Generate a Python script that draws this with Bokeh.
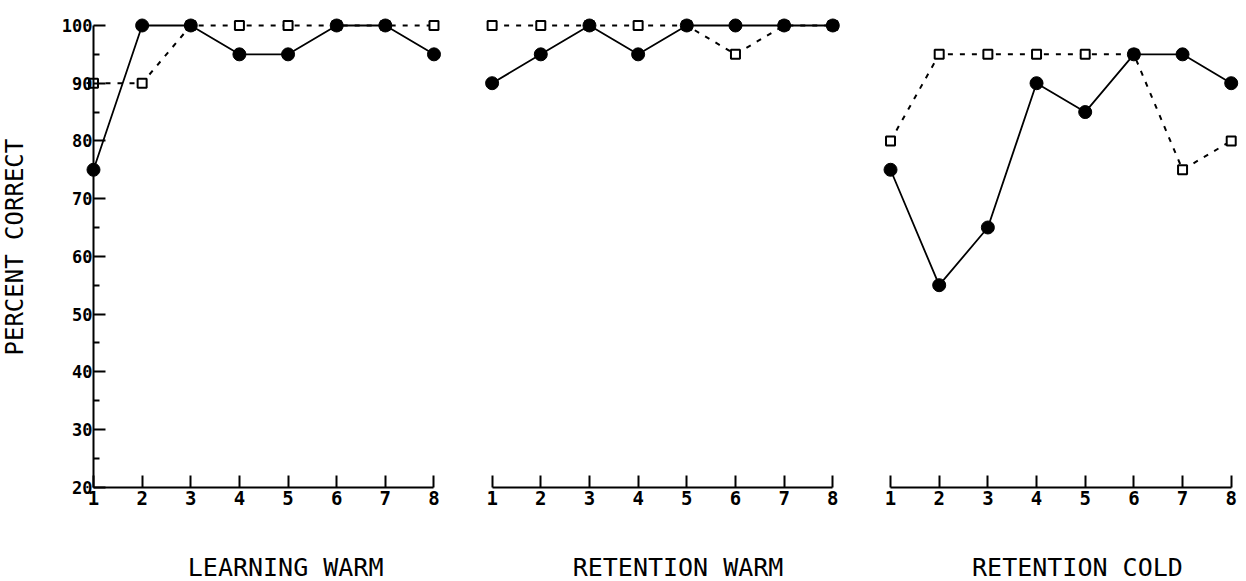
import math
from bokeh.plotting import figure
from bokeh.models import Range1d, LinearAxis, FixedTicker, Label
from bokeh.embed import file_html
from bokeh.resources import INLINE

# ---------------- data ----------------
sessions = [1, 2, 3, 4, 5, 6, 7, 8]
panel_titles = ["LEARNING WARM", "RETENTION WARM", "RETENTION COLD"]

solid_learning_warm = [75, 100, 100, 95, 95, 100, 100, 95]
dashed_learning_warm = [90, 90, 100, 100, 100, 100, 100, 100]

solid_retention_warm = [90, 95, 100, 95, 100, 100, 100, 100]
dashed_retention_warm = [100, 100, 100, 100, 100, 95, 100, 100]

solid_retention_cold = [75, 55, 65, 90, 85, 95, 95, 90]
dashed_retention_cold = [80, 95, 95, 95, 95, 95, 75, 80]

y_ticks = [20, 30, 40, 50, 60, 70, 80, 90, 100]
y_minor_ticks = [25, 35, 45, 55, 65, 75, 85, 95]
y_label = "PERCENT CORRECT"

solid_series = [solid_learning_warm, solid_retention_warm, solid_retention_cold]
dashed_series = [dashed_learning_warm, dashed_retention_warm, dashed_retention_cold]

# ---------------- layout ----------------
W, H = 1246, 581
FONT = "DejaVu Sans Mono"

p = figure(width=W, height=H, output_backend="svg", toolbar_location=None,
           x_range=Range1d(-0.912, 24.705), y_range=Range1d(3.66, 104.33),
           x_axis_location=None, y_axis_location=None, min_border=0,
           outline_line_color=None, background_fill_color="white",
           border_fill_color="white")
p.grid.visible = False
p.extra_x_ranges = {"p2": Range1d(-9.101, 16.500), "p3": Range1d(-17.287, 8.314)}

range_names = ["default", "p2", "p3"]
title_x = [4.95, 4.82, 4.84]

for rn, solid, dashed, title, tx in zip(range_names, solid_series, dashed_series,
                                        panel_titles, title_x):
    p.line(sessions, dashed, x_range_name=rn, line_color="black",
           line_width=2, line_dash="5 7")
    p.line(sessions, solid, x_range_name=rn, line_color="black", line_width=1.8)
    p.scatter(sessions, dashed, x_range_name=rn, marker="square", size=9,
              fill_color="white", line_color="black", line_width=2)
    p.scatter(sessions, solid, x_range_name=rn, marker="circle", size=13,
              fill_color="black", line_color="black")

    xaxis = LinearAxis(x_range_name=rn, fixed_location=20, bounds=(1, 8),
                       ticker=FixedTicker(ticks=sessions, minor_ticks=[]))
    xaxis.axis_line_width = 2
    xaxis.axis_line_color = "black"
    xaxis.major_tick_in = 12
    xaxis.major_tick_out = 0
    xaxis.major_tick_line_width = 2
    xaxis.minor_tick_in = 0
    xaxis.minor_tick_out = 0
    xaxis.major_label_standoff = 4
    xaxis.major_label_text_font = FONT
    xaxis.major_label_text_font_style = "bold"
    xaxis.major_label_text_font_size = "19px"
    xaxis.major_label_text_color = "black"
    p.add_layout(xaxis, "below")

    p.add_layout(Label(x=tx, y=6.17, x_range_name=rn, text=title,
                       text_font=FONT, text_font_size="25px", text_color="black",
                       text_align="center", text_baseline="middle"))

yaxis = LinearAxis(fixed_location=1, bounds=(20, 100),
                   ticker=FixedTicker(ticks=y_ticks, minor_ticks=y_minor_ticks))
yaxis.axis_line_width = 2
yaxis.axis_line_color = "black"
yaxis.major_tick_in = 12
yaxis.major_tick_out = 0
yaxis.major_tick_line_width = 2
yaxis.minor_tick_in = 6
yaxis.minor_tick_out = 0
yaxis.minor_tick_line_width = 2
yaxis.major_label_standoff = 1
yaxis.major_label_text_font = FONT
yaxis.major_label_text_font_style = "bold"
yaxis.major_label_text_font_size = "17px"
yaxis.major_label_text_color = "black"
p.add_layout(yaxis, "left")

p.add_layout(Label(x=-0.604, y=61.6, text=y_label, angle=math.pi / 2,
                   text_font=FONT, text_font_size="24px", text_color="black",
                   text_align="center", text_baseline="middle"))

open("out.html", "w").write(file_html(p, INLINE))
